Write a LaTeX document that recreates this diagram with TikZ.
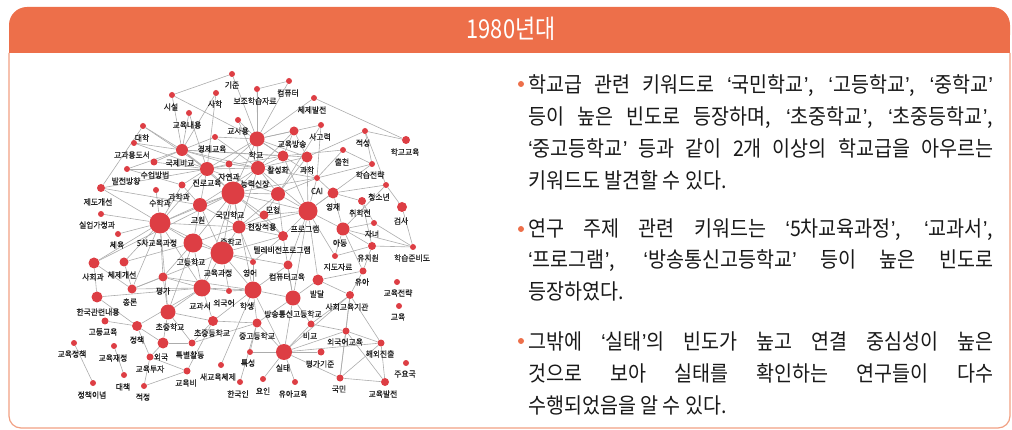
\documentclass[tikz,border=0pt]{standalone}
\usepackage{fontspec}
\setmainfont{Noto Sans CJK KR}
\newfontfamily\krbody[FakeStretch=0.91]{Noto Sans CJK KR}
\newfontfamily\krtitle[FakeStretch=0.84]{Noto Sans CJK KR}
\newfontfamily\krlab[FakeStretch=0.95,FakeBold=0.6]{Noto Sans CJK KR}
\newfontfamily\qfont{Liberation Sans}
\newcommand\kqo{{\qfont ‘}}
\newcommand\kqc{{\qfont ’}}
\definecolor{hdr}{RGB}{237,111,74}
\definecolor{bord}{RGB}{241,160,130}
\definecolor{dotc}{RGB}{221,62,68}
\definecolor{edgec}{RGB}{172,172,172}
\definecolor{labc}{RGB}{35,35,35}
\definecolor{txtc}{RGB}{25,25,25}
\pgfdeclarelayer{bg}
\pgfsetlayers{bg,main}
\tikzset{
  dot/.style={circle, fill=dotc, inner sep=0pt, draw=none},
  lab/.style={font=\krlab\fontsize{8.2}{9}\selectfont, text=labc, inner sep=0pt},
  lnk/.style={draw=edgec, line width=0.6pt},
  bodyline/.style={anchor=base west, inner sep=0pt, font=\krbody\fontsize{21.5}{26}\selectfont, text=txtc},
  bul/.style={circle, fill=hdr, inner sep=0pt, minimum size=6pt}
}
\begin{document}
\begin{tikzpicture}[x=1pt,y=-1pt]
\useasboundingbox (0,0) rectangle (1012,430);
% frame
\fill[hdr, rounded corners=18pt] (9,7) rectangle (1010,53);
\fill[hdr] (9,30) rectangle (1010,53);
\draw[bord, line width=1.2pt, rounded corners=12pt] (9,53) -- (9,428) -- (1010,428) -- (1010,53);
\node[font=\krtitle\fontsize{26}{30}\selectfont, text=white] (title) at (511,29) {1980년대};

% keyword nodes
\foreach \n/\x/\y/\r/\lx/\ly/\t in {
1/232/74/2.5/232/85/기준,
2/289/81/2.5/288/93/컴퓨터,
3/172/95/2.5/171/107/시설,
4/216/93/2.5/215/104/사학,
5/257/89/2.5/255/101/보조학습자료,
6/314/98/2.5/312/110/체제발전,
7/189/113/2.5/187/125/교육내용,
8/238/120/2.5/238/131/교사용,
9/143/126/2.5/142/138/대학,
10/321/125/2.5/320/137/사고력,
11/365/131/2.5/363/143/적성,
12/406/140/3.5/405/152/학교교육,
13/134/143/2.5/132/155/교과용도서,
14/215/137/2.5/212/149/경제교육,
15/257/139/7/256/155/학교,
16/294/131/4/292/144/교육방송,
17/182/150/5.5/180/163/국제비교,
18/343/150/2.5/342/162/출현,
19/283/156/5/278/170/활성화,
20/307/157/5/307/170/과학,
21/372/164/2.5/370/175/학습전략,
22/154/162/3/155/175/수업방법,
23/229/164/3/229/177/자연과,
24/127/169/2.5/126/181/발전방향,
25/207/169/6.5/207/183/진로교육,
26/258/168/6.5/255/184/능력신장,
27/317/178/2.5/317/191/CAI,
28/386/185/2.5/379/197/청소년,
29/182/185/3/179/197/과학과,
30/101/188/3.5/98/202/제도개선,
31/156/190/2.5/160/203/수학과,
32/233/193/11/230/215/국민학교,
33/278/194/6.5/273/210/모형,
34/333/193/5/333/207/영재,
35/362/201/3.5/360/213/취학전,
36/402/207/4.5/401/221/검사,
37/200/205/6.5/198/220/교원,
38/308/211/9/305/229/프로그램,
39/264/215/4/262/227/현장적용,
40/101/214/2.5/97/225/실업가정과,
41/160/223/10/157/243/5차교육과정,
42/239/227/6/231/242/중학교,
43/374/223/2.5/372/234/자녀,
44/343/229/6/340/243/아동,
45/118/234/2.5/117/245/체육,
46/193/243/9/191/262/고등학교,
47/283/236/4.5/282/250/텔레비전프로그램,
48/372/246/3.5/368/258/유치원,
49/413/247/2.5/412/258/학습준비도,
50/222/253/11/218/273/교육과정,
51/335/256/2.5/338/267/지도자료,
52/253/262/2.5/250/273/영어,
53/94/263/5/93/277/사회과,
54/124/262/4/122/275/체제개선,
55/288/265/4/287/277/컴퓨터교육,
56/363/271/3/362/282/유아,
57/163/277/4/163/291/평가,
58/318/280/5/317/294/발달,
59/397/282/2.5/398/293/교육전략,
60/202/288/8/200/306/교과서,
61/229/291/2.5/224/303/외국어,
62/253/290/8/247/306/학생,
63/132/289/4/130/302/총론,
64/97/297/5/98/312/한국관련내용,
65/293/298/7/293/314/방송통신고등학교,
66/350/295/3.5/347/307/사회교육기관,
67/399/306/2.5/398/317/교육,
68/168/312/7/170/327/초중학교,
69/105/321/3/103/332/고등교육,
70/213/321/4.5/212/333/초중등학교,
71/137/326/4.5/137/340/정책,
72/257/323/4/257/336/중고등학교,
73/311/324/3/310/336/비교,
74/346/331/3/345/342/외국어교육,
75/74/343/2.5/72/354/교육정책,
76/163/343/5/161/357/외국,
77/192/343/3/190/355/특별활동,
78/381/343/3/380/354/해외진출,
79/114/346/2.5/113/358/교육재정,
80/250/352/2.5/248/363/특성,
81/284/352/7.5/283/368/실태,
82/321/352/3/320/364/평가기준,
83/150/357/3/150/369/교육투자,
84/221/365/2.5/218/377/새교육체제,
85/406/363/2.5/405/374/주요국,
86/187/371/3/186/383/교육비,
87/124/375/2.5/123/387/대책,
88/340/378/3/339/389/국민,
89/263/379/2.5/263/391/요인,
90/240/382/2.5/238/394/한국인,
91/295/382/2.5/293/394/유아교육,
92/385/382/3.5/383/394/교육발전,
93/93/383/2.5/92/395/정책이념,
94/144/386/2.5/143/397/적정}
{
  \node[dot, minimum size=2*\r+1] (k\n) at (\x,\y) {};
  \node[lab] (t\n) at (\lx,\ly) {\t};
}

% connectors
\begin{pgfonlayer}{bg}
\foreach \a/\b in {
3/1, 3/15, 1/15, 4/17, 4/25, 9/17, 7/17, 7/25, 5/2, 5/15, 5/26, 2/15, 6/15, 6/12,
8/15, 8/26, 14/15, 14/17, 14/26, 15/16, 15/10, 15/19, 15/20, 15/26, 15/23, 15/25,
15/32, 15/27, 16/19, 16/20, 16/26, 10/27, 10/33, 11/20, 11/21, 11/28, 18/21, 18/19,
18/27, 21/27, 21/38, 13/17, 13/25, 22/25, 22/17, 24/17, 24/25, 17/25, 17/26, 17/23,
17/32, 17/20, 17/19, 23/25, 23/26, 23/32, 25/26, 25/32, 25/37, 25/41, 25/29, 25/33,
25/19, 26/32, 26/33, 26/19, 26/20, 26/27, 26/38, 26/42, 26/37, 29/41, 29/37, 31/41,
30/41, 30/37, 40/41, 45/41, 53/41, 54/41, 63/41, 57/41, 41/32, 41/37, 41/46, 41/50,
41/60, 41/42, 41/68, 32/33, 32/37, 32/42, 32/46, 32/50, 32/38, 32/39, 32/60, 32/62,
32/27, 32/47, 33/38, 33/39, 33/47, 33/42, 33/27, 33/20, 27/34, 27/38, 20/38, 19/38,
34/35, 34/44, 34/38, 28/34, 28/36, 28/44, 35/43, 35/48, 36/49, 43/49, 48/49, 44/49,
44/48, 44/43, 44/51, 38/44, 38/47, 38/51, 38/55, 38/39, 38/42, 38/58, 38/65, 51/48,
56/48, 56/66, 44/56, 37/42, 37/46, 37/50, 42/50, 42/39, 42/47, 42/46, 42/52, 39/47,
46/50, 46/60, 46/57, 46/68, 46/54, 50/60, 50/62, 50/52, 50/61, 50/47, 50/55, 52/62,
52/47, 55/62, 55/65, 47/65, 58/65, 58/66, 58/56, 60/61, 60/62, 60/68, 60/57, 60/64,
60/71, 60/70, 60/63, 61/62, 62/65, 62/72, 62/70, 62/84, 62/81, 65/81, 65/72, 65/73,
57/68, 57/63, 63/53, 53/64, 54/63, 64/71, 69/71, 71/76, 71/83, 68/76, 68/77, 68/70,
70/77, 70/86, 72/77, 72/80, 72/81, 76/77, 76/83, 83/86, 83/94, 86/94, 79/87, 75/93,
70/72, 73/66, 73/81, 81/74, 81/78, 81/88, 81/91, 81/89, 81/80, 81/82, 81/66, 66/88,
66/78, 66/74, 74/78, 74/92, 78/92, 88/92, 88/78, 88/74, 90/72, 73/74, 53/32, 30/25,
57/62, 63/50, 9/25, 3/17, 12/11, 30/9, 24/29}
{ \draw[lnk] (k\a) -- (k\b); }
\end{pgfonlayer}

% text
\node[bul] (b1) at (521,84) {};
\node[bodyline] (p1a) at (528,93) {\makebox[465pt][s]{학교급 관련 키워드로 \kqo 국민학교\kqc, \kqo 고등학교\kqc, \kqo 중학교\kqc}};
\node[bodyline] (p1b) at (528,125) {\makebox[465pt][s]{등이 높은 빈도로 등장하며, \kqo 초중학교\kqc, \kqo 초중등학교\kqc,}};
\node[bodyline] (p1c) at (528,157) {\makebox[465pt][s]{\kqo 중고등학교\kqc{} 등과 같이 2개 이상의 학교급을 아우르는}};
\node[bodyline] (p1d) at (528,189) {키워드도 발견할 수 있다.};

\node[bul] (b2) at (521,229) {};
\node[bodyline] (p2a) at (528,237) {\makebox[465pt][s]{연구 주제 관련 키워드는 \kqo 5차교육과정\kqc, \kqo 교과서\kqc,}};
\node[bodyline] (p2b) at (528,268) {\makebox[465pt][s]{\kqo 프로그램\kqc, \kqo 방송통신고등학교\kqc{} 등이 높은 빈도로}};
\node[bodyline] (p2c) at (528,300) {등장하였다.};

\node[bul] (b3) at (521,341) {};
\node[bodyline] (p3a) at (528,349) {\makebox[465pt][s]{그밖에 \kqo 실태\kqc 의 빈도가 높고 연결 중심성이 높은}};
\node[bodyline] (p3b) at (528,381) {\makebox[465pt][s]{것으로 보아 실태를 확인하는 연구들이 다수}};
\node[bodyline] (p3c) at (528,413) {수행되었음을 알 수 있다.};
\end{tikzpicture}
\end{document}
